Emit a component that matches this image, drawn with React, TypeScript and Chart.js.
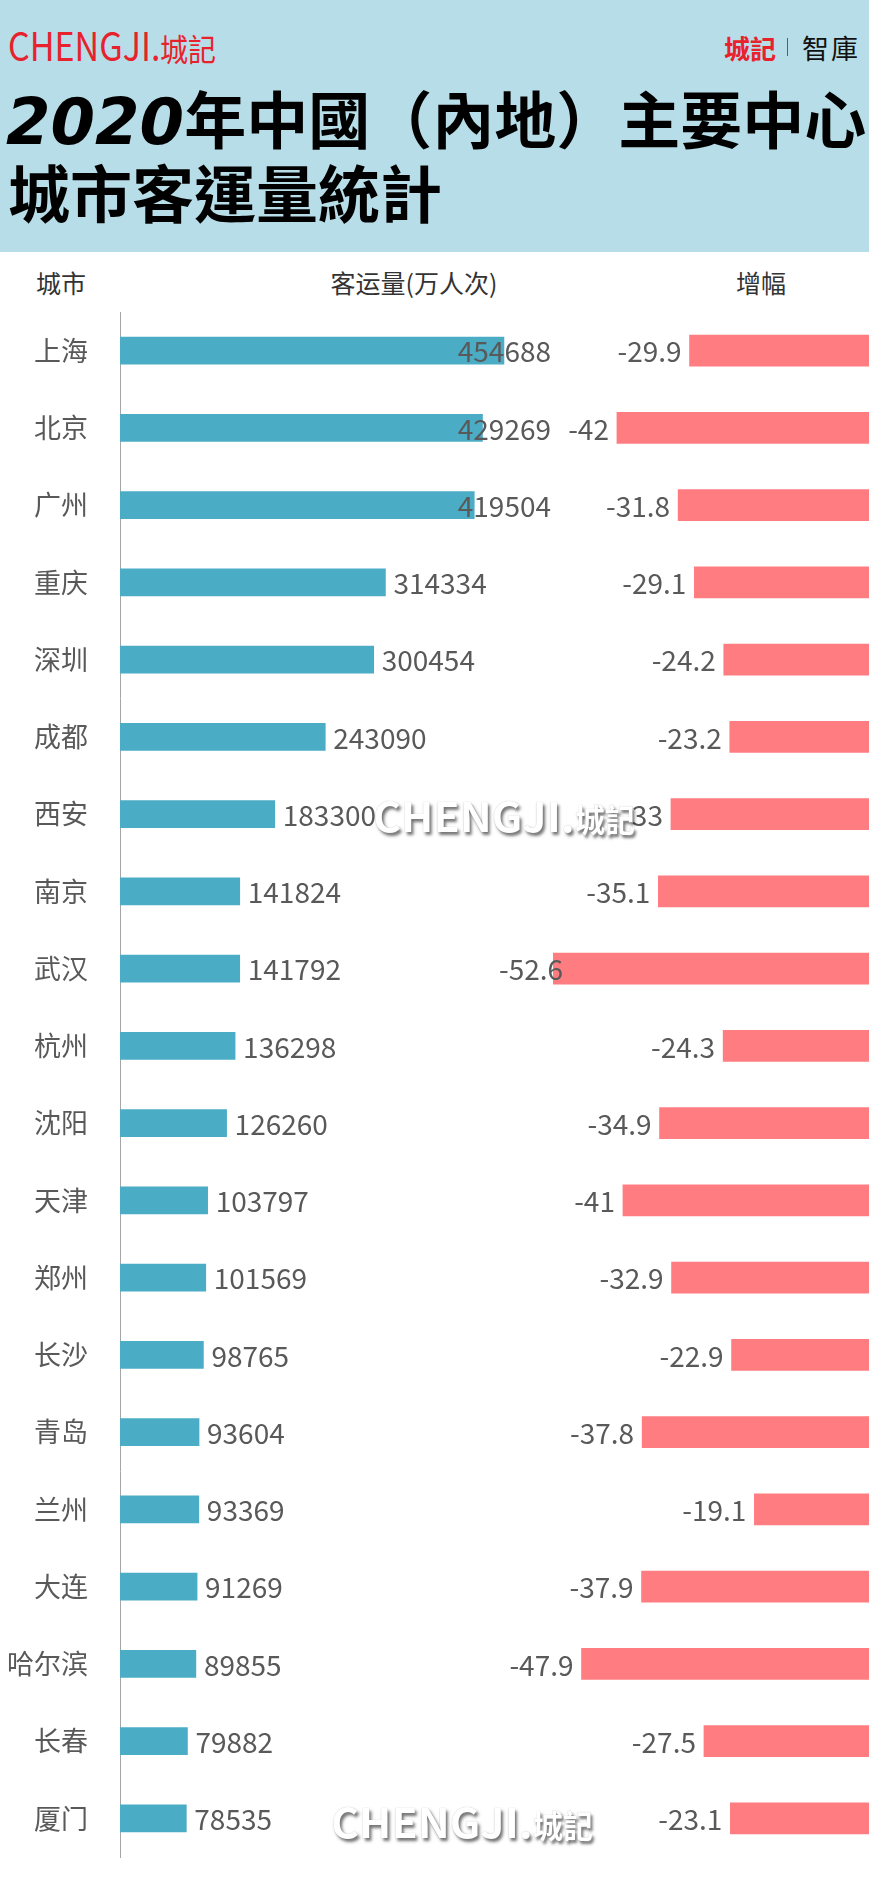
import React, { useEffect, useLayoutEffect, useRef, useState } from "react";
import { Chart, registerables } from "chart.js";

Chart.register(...registerables);

// ---------------- data ----------------
const cities = ["上海", "北京", "广州", "重庆", "深圳", "成都", "西安", "南京", "武汉", "杭州", "沈阳", "天津", "郑州", "长沙", "青岛", "兰州", "大连", "哈尔滨", "长春", "厦门"];
const passengers = [454688, 429269, 419504, 314334, 300454, 243090, 183300, 141824, 141792, 136298, 126260, 103797, 101569, 98765, 93604, 93369, 91269, 89855, 79882, 78535];
const growth = [-29.9, -42, -31.8, -29.1, -24.2, -23.2, -33, -35.1, -52.6, -24.3, -34.9, -41, -32.9, -22.9, -37.8, -19.1, -37.9, -47.9, -27.5, -23.1];

const titleYear = "2020";
const titleLine1 = "年中國（內地）主要中心";
const titleLine2 = "城市客運量統計";
const colHeaders = ["城市", "客运量(万人次)", "增幅"];

const CJK = "'Noto Sans CJK SC', 'Noto Sans CJK TC', sans-serif";
const CJK_TC = "'Noto Sans CJK TC', 'Noto Sans CJK SC', sans-serif";
const LABEL_COLOR = "#595959";

function Stretch({ text, width, style }: { text: string; width: number; style: React.CSSProperties }) {
  const ref = useRef<HTMLSpanElement>(null);
  const [k, setK] = useState(1);
  useLayoutEffect(() => {
    if (ref.current) {
      const w = ref.current.offsetWidth;
      if (w > 0) setK(width / w);
    }
  }, [text, width]);
  return (
    <span style={{ display: "inline-block", width, whiteSpace: "nowrap", verticalAlign: "baseline" }}>
      <span
        ref={ref}
        style={{ display: "inline-block", transformOrigin: "left center", transform: `scaleX(${k})`, whiteSpace: "nowrap", ...style }}
      >
        {text}
      </span>
    </span>
  );
}

function Line({ cy, lh, left, width, align, children, style }: any) {
  return (
    <div
      style={{
        position: "absolute",
        top: cy - lh / 2,
        left,
        width,
        height: lh,
        lineHeight: `${lh}px`,
        textAlign: align || "left",
        whiteSpace: "nowrap",
        ...style,
      }}
    >
      {children}
    </div>
  );
}

export default function App() {
  const canvasRef = useRef<HTMLCanvasElement>(null);

  useEffect(() => {
    document.body.style.margin = "0";
    const labelPlugin = {
      id: "valueLabels",
      afterDatasetsDraw(chart: any) {
        const ctx = chart.ctx;
        ctx.save();
        ctx.font = `28px ${CJK}`;
        ctx.fillStyle = LABEL_COLOR;
        ctx.textBaseline = "middle";
        ctx.textAlign = "left";
        chart.getDatasetMeta(0).data.forEach((bar: any, i: number) => {
          const t = String(passengers[i]);
          const w = ctx.measureText(t).width;
          const x = Math.min(bar.x + 8, 551 - w);
          ctx.fillText(t, x, bar.y + 1);
        });
        chart.getDatasetMeta(1).data.forEach((bar: any, i: number) => {
          const t = String(growth[i]);
          const w = ctx.measureText(t).width;
          const x = Math.max(bar.x - 8 - w, 499);
          ctx.fillText(t, x, bar.y + 1);
        });
        ctx.restore();
      },
    };

    const chart = new Chart(canvasRef.current as HTMLCanvasElement, {
      type: "bar",
      data: {
        labels: cities,
        datasets: [
          { data: passengers, xAxisID: "x", backgroundColor: "#4bacc6", barThickness: 27, grouped: false } as any,
          { data: growth, xAxisID: "x2", backgroundColor: "#ff7c80", barThickness: 31, grouped: false } as any,
        ],
      },
      options: {
        indexAxis: "y",
        animation: false,
        responsive: false,
        maintainAspectRatio: false,
        layout: { padding: { top: 312, bottom: 29, left: 0, right: 0 } },
        plugins: { legend: { display: false }, tooltip: { enabled: false }, title: { display: false } },
        scales: {
          x: { type: "linear", min: 0, max: 887000, display: false },
          x2: { type: "linear", min: -124.8, max: 0, display: false },
          y: {
            type: "category",
            position: "left",
            grid: { drawOnChartArea: false, drawTicks: false },
            border: { display: true, color: "#a6a6a6", width: 1 },
            ticks: { color: LABEL_COLOR, font: { size: 27, family: CJK }, padding: 32 },
            afterFit: (s: any) => {
              s.width = 120;
              s.paddingTop = 0;
              s.paddingBottom = 0;
            },
          } as any,
        },
      } as any,
      plugins: [labelPlugin],
    });
    return () => chart.destroy();
  }, []);

  const wmStyle: React.CSSProperties = {
    color: "#ffffff",
    fontFamily: CJK,
    fontWeight: "bold",
    fontSize: 40,
    textShadow: "2px 3px 3px rgba(0,0,0,0.55), 0 0 1px rgba(0,0,0,0.3)",
  };

  return (
    <div style={{ position: "relative", width: 869, height: 1886, overflow: "hidden", background: "#ffffff" }}>
      {/* header band */}
      <div style={{ position: "absolute", left: 0, top: 0, width: 869, height: 252, background: "#b7dee8" }} />

      {/* left logo */}
      <Line cy={44} lh={44} left={8} width={260} style={{ color: "#e8222c", fontFamily: CJK }}>
        <Stretch text="CHENGJI." width={152} style={{ fontSize: 39 }} />
        <Stretch text="城記" width={56} style={{ fontSize: 31 }} />
      </Line>

      {/* right logo */}
      <Line cy={48} lh={34} left={724} width={60} style={{ color: "#e8222c", fontFamily: CJK, fontWeight: "bold", fontSize: 26 }}>
        城記
      </Line>
      <div style={{ position: "absolute", left: 787, top: 38, width: 1, height: 18, background: "#e8222c" }} />
      <Line cy={48} lh={34} left={802} width={66} style={{ color: "#111", fontFamily: CJK_TC, fontSize: 27, letterSpacing: 2 }}>
        智庫
      </Line>

      {/* title */}
      <Line cy={117} lh={72} left={6} width={870} style={{ color: "#000", fontFamily: CJK_TC, fontWeight: "bold", fontSize: 62 }}>
        <span style={{ fontFamily: "'DejaVu Sans', sans-serif", fontStyle: "italic", fontWeight: "bold", fontSize: 64 }}>{titleYear}</span>
        {titleLine1}
      </Line>
      <Line cy={191} lh={72} left={8} width={870} style={{ color: "#000", fontFamily: CJK_TC, fontWeight: "bold", fontSize: 62 }}>
        {titleLine2}
      </Line>

      {/* column headers */}
      <Line cy={282} lh={32} left={11} width={100} align="center" style={{ color: "#333", fontFamily: CJK, fontSize: 25 }}>
        {colHeaders[0]}
      </Line>
      <Line cy={282} lh={32} left={314} width={200} align="center" style={{ color: "#333", fontFamily: CJK, fontSize: 25 }}>
        {colHeaders[1]}
      </Line>
      <Line cy={282} lh={32} left={711} width={100} align="center" style={{ color: "#333", fontFamily: CJK, fontSize: 25 }}>
        {colHeaders[2]}
      </Line>

      {/* chart */}
      <canvas ref={canvasRef} width={869} height={1886} style={{ position: "absolute", left: 0, top: 0, width: 869, height: 1886, display: "block" }} />

      {/* watermarks */}
      <Line cy={815} lh={48} left={373} width={280} style={{ pointerEvents: "none" }}>
        <Stretch text="CHENGJI." width={202} style={wmStyle} />
        <Stretch text="城記" width={60} style={{ ...wmStyle, fontSize: 32 }} />
      </Line>
      <Line cy={1821} lh={48} left={331} width={280} style={{ pointerEvents: "none" }}>
        <Stretch text="CHENGJI." width={202} style={wmStyle} />
        <Stretch text="城記" width={60} style={{ ...wmStyle, fontSize: 32 }} />
      </Line>
    </div>
  );
}
